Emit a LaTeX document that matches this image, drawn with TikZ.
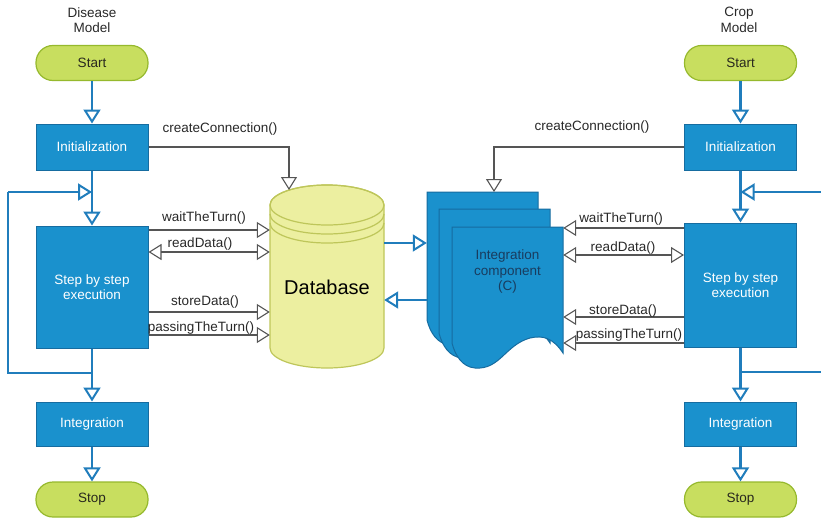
\documentclass[tikz,border=0pt]{standalone}
\usepackage{fontspec}
\setmainfont{Liberation Sans}
\usetikzlibrary{arrows.meta,calc}

\definecolor{boxfill}{RGB}{26,145,205}
\definecolor{boxline}{RGB}{22,108,160}
\definecolor{pillfill}{RGB}{200,222,95}
\definecolor{pillline}{RGB}{150,185,45}
\definecolor{pilltext}{RGB}{40,40,30}
\definecolor{dbfill}{RGB}{236,239,160}
\definecolor{dbline}{RGB}{190,198,90}
\definecolor{flowblue}{RGB}{32,125,188}
\definecolor{msggray}{RGB}{85,85,85}
\definecolor{labeltext}{RGB}{40,40,40}
\definecolor{ictext}{RGB}{25,60,95}

\newcommand\figfont{\fontsize{13.5pt}{15.5pt}\selectfont}

\tikzset{
  box/.style={draw=boxline, fill=boxfill, line width=1pt, minimum width=112pt,
    text=white, font=\figfont, align=center, inner sep=0pt},
  pill/.style={draw=pillline, fill=pillfill, line width=1.2pt, rounded corners=17pt,
    minimum width=112pt, minimum height=35pt, text=pilltext, font=\figfont, inner sep=0pt},
  flowline/.style={draw=flowblue, line width=2.2pt},
  flow/.style={flowline, -{Triangle[open, length=14pt, width=17pt, line width=2pt]}},
  msg/.style={draw=msggray, line width=1.1pt, -{Triangle[open, length=13pt, width=16pt, line width=1.1pt]}},
  msgboth/.style={msg, {Triangle[open, length=13pt, width=16pt, line width=1.1pt]}-{Triangle[open, length=13pt, width=16pt, line width=1.1pt]}},
  msglabel/.style={font=\figfont, text=labeltext, inner sep=0pt},
  % one document sheet; the argument lengthens the sheet downwards
  docpage/.pic={
    \path[fill=boxfill, draw=boxline, line width=1pt]
      (0,0) -- (111,0) -- (111,-126-#1)
      .. controls (101,-111-#1) and (91,-108-#1) .. (78,-111-#1)
      .. controls (53,-118-#1) and (48,-143-#1) .. (23,-141-#1)
      .. controls (10,-140-#1) and (3,-128-#1) .. (0,-116-#1) -- cycle;
  }
}

\begin{document}
\begin{tikzpicture}[x=1pt, y=1pt]
\useasboundingbox (0,0) rectangle (821,-519);

% ---------- Disease model (left column) ----------
\node[font=\figfont, text=labeltext, align=center] (titleL) at (92,-20) {Disease\\Model};
\node[pill] (startL) at (92,-63) {Start};
\node[box, minimum height=46pt] (initL) at (92,-147) {Initialization};
\node[box, minimum height=122pt] (stepL) at (92,-287) {Step by step\\execution};
\node[box, minimum height=44pt] (integL) at (92,-424) {Integration};
\node[pill] (stopL) at (92,-499.5) {Stop};

\draw[flow] (startL) -- (initL);
\draw[flow] (initL) -- (stepL);
\draw[flow] (stepL) -- (integL);
\draw[flow] (integL) -- (stopL);

\coordinate (lbL) at (8,-373);
\coordinate (ltL) at (8,-192);
\draw[flowline] (stepL.south |- lbL) -- (lbL) -- (ltL);
\draw[flow] (ltL) -- (stepL.north |- ltL);

% ---------- Crop model (right column) ----------
\node[font=\figfont, text=labeltext, align=center] (titleR) at (739,-20) {Crop\\Model};
\node[pill] (startR) at (740.5,-63) {Start};
\node[box, minimum height=46pt] (initR) at (740.5,-147) {Initialization};
\node[box, minimum height=124pt] (stepR) at (740.5,-285) {Step by step\\execution};
\node[box, minimum height=44pt] (integR) at (740.5,-424) {Integration};
\node[pill] (stopR) at (740.5,-499.5) {Stop};

\draw[flow] (startR) -- (initR);
\draw[flow] (initR) -- (stepR);
\draw[flow] (stepR) -- (integR);
\draw[flow] (integR) -- (stopR);

\coordinate (ltR) at (821,-192);
\coordinate (lbR) at (821,-372);
\draw[flow] (ltR) -- (initR.south |- ltR);
\draw[flowline] (stepR.south |- lbR) -- (lbR);

% ---------- Database cylinder ----------
\path[fill=dbfill, draw=dbline, line width=1.2pt]
  (270,-205) -- (270,-348) arc[start angle=180, end angle=360, x radius=57, y radius=20]
  -- (384,-205) arc[start angle=0, end angle=180, x radius=57, y radius=20] -- cycle;
\draw[dbline, line width=1.2pt] (327,-205) ellipse[x radius=57, y radius=20];
\draw[dbline, line width=1.2pt] (270,-214) arc[start angle=180, end angle=360, x radius=57, y radius=20];
\draw[dbline, line width=1.2pt] (270,-223) arc[start angle=180, end angle=360, x radius=57, y radius=20];
\node[minimum width=114pt, minimum height=183pt, inner sep=0pt] (db) at (327,-276.5) {};
\node[font=\fontsize{20pt}{22pt}\selectfont, text=black] (dblabel) at (327,-287) {Database};
\coordinate (dbtop) at (289,-190);

% ---------- Integration component (stacked documents) ----------
\pic at (427,-192) {docpage=12};
\pic at (439,-209) {docpage=8};
\pic at (452,-227) {docpage=0};
\node[minimum width=111pt, minimum height=10pt, inner sep=0pt] (icback) at (482.5,-250) {};
\node[minimum width=111pt, inner sep=0pt, font=\figfont, text=ictext, align=center] (ic) at (507.5,-272) {Integration\\component\\(C)};
\coordinate (ictop) at (494,-192);

% ---------- Database <-> integration component ----------
\draw[flow] (db.east |- 0,-243) -- (icback.west |- 0,-243);
\draw[flow] (icback.west |- 0,-300) -- (db.east |- 0,-300);

% ---------- Messages of the disease model ----------
\draw[msg] (initL.east) -| (dbtop);
\node[msglabel] (ccL) at (220,-129) {createConnection()};
\draw[msg] (stepL.east |- 0,-230) -- (db.west |- 0,-230);
\node[msglabel] (wtL) at (204,-218) {waitTheTurn()};
\draw[msgboth] (stepL.east |- 0,-252) -- (db.west |- 0,-252);
\node[msglabel] (rdL) at (200,-244) {readData()};
\draw[msg] (stepL.east |- 0,-312) -- (db.west |- 0,-312);
\node[msglabel] (sdL) at (205,-302) {storeData()};
\draw[msg] (stepL.east |- 0,-335) -- (db.west |- 0,-335);
\node[msglabel] (ptL) at (201,-328) {passingTheTurn()};

% ---------- Messages of the crop model ----------
\draw[msg] (initR.west) -| (ictop);
\node[msglabel] (ccR) at (592,-127) {createConnection()};
\draw[msg] (stepR.west |- 0,-228) -- (ic.east |- 0,-228);
\node[msglabel] (wtR) at (621,-219) {waitTheTurn()};
\draw[msgboth] (stepR.west |- 0,-255) -- (ic.east |- 0,-255);
\node[msglabel] (rdR) at (623,-248) {readData()};
\draw[msg] (stepR.west |- 0,-317) -- (ic.east |- 0,-317);
\node[msglabel] (sdR) at (623,-311) {storeData()};
\draw[msg] (stepR.west |- 0,-343) -- (ic.east |- 0,-343);
\node[msglabel] (ptR) at (629,-335) {passingTheTurn()};
\end{tikzpicture}
\end{document}
